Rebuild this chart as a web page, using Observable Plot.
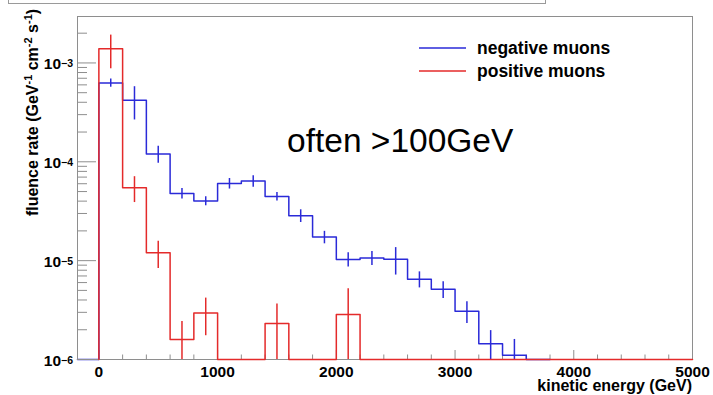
<!DOCTYPE html>
<html><head><meta charset="utf-8">
<script src="https://cdn.jsdelivr.net/npm/d3@7"></script>
<script src="https://cdn.jsdelivr.net/npm/@observablehq/plot@0.6"></script>
<style>
html,body{margin:0;padding:0;background:#fff;}
#wrap{position:relative;width:713px;height:395px;overflow:hidden;font-family:"Liberation Sans",Arial,sans-serif;color:#000;background:#fff;}
#titlebox{position:absolute;left:8px;top:-10px;width:536px;height:12px;border:1px solid #9a9a9a;z-index:5;}
#wrap svg{position:absolute;left:0;top:0;z-index:1;}
</style></head><body><div id="wrap"><div id="titlebox"></div></div>
<script>
// ---- data ----
const binStart = [0,200,400,600,800,1000,1200,1400,1600,1800,2000,2200,2400,2600,2800,3000,3200,3400,3600,3800,4000,4200,4400,4600,4800];
const binWidth = 200;
const negValues = [6.28e-4,4.20e-4,1.20e-4,4.79e-5,4.01e-5,6.04e-5,6.38e-5,4.46e-5,2.85e-5,1.73e-5,1.03e-5,1.065e-5,1.035e-5,6.5e-6,5.13e-6,3.08e-6,1.44e-6,1.105e-6,0,0,0,0,0,0,0];
const negErrors = [0.60e-4,1.55e-4,0.235e-4,0.58e-5,0.42e-5,0.74e-5,0.84e-5,0.44e-5,0.42e-5,0.25e-5,0.17e-5,0.17e-5,0.32e-5,1.2e-6,1.0e-6,0.77e-6,0.52e-6,0.49e-6,0,0,0,0,0,0,0];
const posValues = [1.393e-3,5.47e-5,1.205e-5,1.59e-6,2.96e-6,0,0,2.31e-6,0,0,2.85e-6,0,0,0,0,0,0,0,0,0,0,0,0,0,0];
const posErrors = [0.52e-3,1.6e-5,0.37e-5,0.83e-6,1.22e-6,0,0,1.34e-6,0,0,2.36e-6,0,0,0,0,0,0,0,0,0,0,0,0,0,0];
const seriesNames = ["negative muons","positive muons"];
const seriesColors = ["#2a2ad8","#e42a2a"];
const xDomain = [-180, 5000];
const yDomain = [1e-6, 2.95e-3];
const xTicksMajor = [0,1000,2000,3000,4000,5000];
const xTicksMinor = [200,400,600,800,1200,1400,1600,1800,2200,2400,2600,2800,3200,3400,3600,3800,4200,4400,4600,4800];
const yTicksMajor = [1e-6,1e-5,1e-4,1e-3];
const yTickBase = ["10","10","10","10"];
const yTickExp = ["\u22126","\u22125","\u22124","\u22123"];
const yTicksMinor = [2e-6,3e-6,4e-6,5e-6,6e-6,7e-6,8e-6,9e-6,2e-5,3e-5,4e-5,5e-5,6e-5,7e-5,8e-5,9e-5,2e-4,3e-4,4e-4,5e-4,6e-4,7e-4,8e-4,9e-4,2e-3];
const annotation = "often >100GeV";
const xLabel = "kinetic energy (GeV)";
const yLabelParts = [["fluence rate (GeV",false],["-1",true],[" cm",false],["-2",true],[" s",false],["-1",true],[")",false]];

// ---- layout ----
const W = 713, H = 395, mL = 77, mR = 21, mT = 16, mB = 36;
const plotW = W - mL - mR, plotH = H - mT - mB;
const floorY = yDomain[0];

// histogram outline as step points; `underflow` starts at the left frame edge,
// `stopAtLastFilled` ends the outline once it has come back to the floor
function stepData(values, underflow, stopAtLastFilled) {
  const pts = [];
  pts.push({x: underflow ? xDomain[0] : binStart[0], y: floorY});
  let lastIdx = values.length - 1;
  if (stopAtLastFilled) {
    let k = values.length - 1;
    while (k > 0 && values[k] <= 0) k--;
    lastIdx = Math.min(k + 1, values.length - 1);
  }
  for (let i = 0; i <= lastIdx; i++) pts.push({x: binStart[i], y: Math.max(values[i], floorY)});
  pts.push({x: binStart[lastIdx] + binWidth, y: Math.max(values[lastIdx], floorY)});
  return pts;
}
function errData(values, errors) {
  return values.map((v, i) => ({x: binStart[i] + binWidth / 2, y1: Math.max(v - errors[i], floorY), y2: v + errors[i], v}))
    .filter(d => d.v > 0);
}

const gray = "#8e8e8e";
const chart = Plot.plot({
  width: W, height: H,
  marginLeft: mL, marginRight: mR, marginTop: mT, marginBottom: mB,
  style: {background: "white", color: "black", fontFamily: "'Liberation Sans', Arial, sans-serif"},
  x: {domain: xDomain},
  y: {type: "log", domain: yDomain, clamp: true, axis: null},
  marks: [
    Plot.ruleX(xTicksMinor, {x: d => d, stroke: gray, insetTop: plotH - 4.5}),
    Plot.ruleX(xTicksMajor, {x: d => d, stroke: gray, insetTop: plotH - 9}),
    Plot.ruleY(yTicksMinor, {y: d => d, stroke: gray, insetRight: plotW - 10}),
    Plot.ruleY(yTicksMajor, {y: d => d, stroke: gray, insetRight: plotW - 19}),
    Plot.axisX(xTicksMajor, {tickSize: 0, tickPadding: 6, fontSize: 15.5, fontWeight: "bold", label: null, tickFormat: d => String(d)}),
    Plot.line(stepData(negValues, true, true), {x: "x", y: "y", curve: "step-after", stroke: seriesColors[0], strokeWidth: 1.5}),
    Plot.ruleX(errData(negValues, negErrors), {x: "x", y1: "y1", y2: "y2", stroke: seriesColors[0], strokeWidth: 1.5}),
    Plot.frame({stroke: gray}),
    Plot.line(stepData(posValues, false, false), {x: "x", y: "y", curve: "step-after", stroke: seriesColors[1], strokeWidth: 1.5}),
    Plot.ruleX(errData(posValues, posErrors), {x: "x", y1: "y1", y2: "y2", stroke: seriesColors[1], strokeWidth: 1.5})
  ]
});
document.getElementById("wrap").appendChild(chart);

const svg = d3.select(chart);
const ys = chart.scale("y");
const font = "'Liberation Sans', Arial, sans-serif";

// y tick labels
yTicksMajor.forEach((v, i) => {
  const t = svg.append("text").attr("x", 73).attr("y", ys.apply(v) + 7)
    .attr("text-anchor", "end").attr("font-family", font).attr("font-weight", "bold").attr("fill", "#000");
  t.append("tspan").attr("font-size", 15.5).text(yTickBase[i]);
  t.append("tspan").attr("font-size", 10.5).attr("dy", -2.5).text(yTickExp[i]);
});

// y label
const yl = svg.append("text").attr("transform", "translate(38,112.5) rotate(-90)")
  .attr("text-anchor", "middle").attr("font-family", font).attr("font-weight", "bold").attr("font-size", 16).attr("fill", "#000");
let raised = false;
yLabelParts.forEach(([s, sup]) => {
  const sp = yl.append("tspan").text(s);
  if (sup) { sp.attr("font-size", 11).attr("dy", raised ? 0 : -6); raised = true; }
  else { sp.attr("dy", raised ? 6 : 0); raised = false; }
});

// x label
svg.append("text").attr("x", 692).attr("y", 391).attr("text-anchor", "end")
  .attr("font-family", font).attr("font-weight", "bold").attr("font-size", 16).attr("fill", "#000").text(xLabel);

// legend
seriesNames.forEach((name, i) => {
  const y = 48 + i * 23;
  svg.append("line").attr("x1", 419).attr("x2", 466).attr("y1", y).attr("y2", y)
    .attr("stroke", seriesColors[i]).attr("stroke-width", 1.5);
  svg.append("text").attr("x", 477).attr("y", y + 5.5).attr("text-anchor", "start").attr("font-family", font)
    .attr("font-weight", "bold").attr("font-size", 17.5).attr("fill", "#000").text(name);
});

// annotation
svg.append("text").attr("x", 287).attr("y", 151.7).attr("text-anchor", "start").attr("font-family", font)
  .attr("font-size", 33.5).attr("fill", "#000").text(annotation);
</script>
</body></html>
